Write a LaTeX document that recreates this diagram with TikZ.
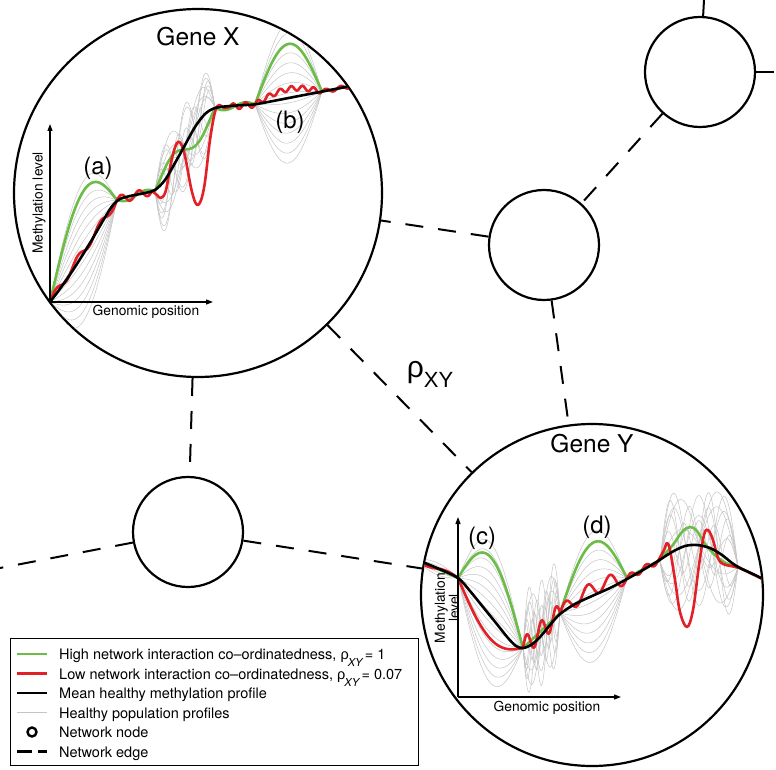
\documentclass[tikz,border=0pt]{standalone}
\usepackage{fontspec}
\setmainfont{TeX Gyre Heros}
\newfontfamily\grk{Liberation Sans}
\usepackage{tikz}
\usetikzlibrary{positioning,calc}
\usetikzlibrary{arrows.meta}

\definecolor{hicol}{RGB}{108,189,72}
\definecolor{locol}{RGB}{226,32,38}
\definecolor{popcol}{RGB}{196,196,196}

\tikzset{
  netnode/.style={circle,draw,line width=2.2pt,inner sep=0pt,minimum size=110pt},
  genenode/.style={netnode,minimum size=#1},
  netedge/.style={line width=2pt,dash pattern=on 18pt off 15pt},
  meanline/.style={line width=2.6pt,black,line cap=round,line join=round},
  hiline/.style={line width=2.6pt,hicol,line cap=round,line join=round},
  loline/.style={line width=2.6pt,locol,line cap=round,line join=round},
  popline/.style={line width=0.5pt,popcol},
  axisline/.style={line width=1.2pt,-{Triangle[length=7pt,width=5pt]}},
  genelabel/.style={font=\fontsize{24.5}{24.5}\selectfont,inner sep=0pt},
  caselabel/.style={font=\fontsize{24}{24}\selectfont,inner sep=0pt},
  axislabel/.style={font=\fontsize{13.8}{12}\selectfont,inner sep=0pt},
  legtext/.style={font=\fontsize{14.5}{14.5}\selectfont,inner sep=0pt,anchor=base west}
}

% one profile piece: style, x0, y0, x1, y1, offset in \x
\newcommand{\prof}[6]{\draw[#1] plot[domain=0:1,samples=60] ({#2+(#4-#2)*\x},{#3+(#5-#3)*\x+#6});}

\begin{document}
\begin{tikzpicture}[x=1pt,y=-1pt]
\useasboundingbox (0,0) rectangle (776,770);

% network
\node[genenode=368pt] (geneX) at (198,193) {};
\node[genenode=342pt] (geneY) at (592,595) {};
\node[netnode] (hubM) at (544,245) {};
\node[netnode] (hubT) at (700,72) {};
\node[netnode] (hubL) at (188,532) {};
\coordinate (endT) at (704,0);
\coordinate (endR) at (776,72);
\coordinate (endL) at (0,568);

\draw[netedge] (hubT) -- (endT);
\draw[netedge] (hubT) -- (endR);
\draw[netedge] (hubT) -- (hubM);
\draw[netedge] (hubM) -- (geneX);
\draw[netedge] (hubM) -- (geneY);
\draw[netedge] (geneX) -- (geneY);
\draw[netedge] (geneX) -- (hubL);
\draw[netedge] (hubL) -- (geneY);
\draw[netedge] (hubL) -- (endL);

\node[font=\grk\fontsize{30}{30}\selectfont,inner sep=0pt] (rhoXY) at (430,374)
  {ρ\raisebox{-10pt}{\fontsize{22}{22}\selectfont XY}};

\node[genelabel,below=19pt of geneX.north] (labX) {Gene X};
\node[genelabel,below=11pt of geneY.north] (labY) {Gene Y};

% Gene X profiles
\begin{scope}
\clip (198,193) circle (183pt);
\foreach \a in {-70,-60,...,70}
  {\prof{popline}{50}{302}{117}{200}{-(\a)*sin(180*\x)}}
\foreach \a/\n in {30/2,-30/2,40/3,-40/3,25/4,-25/4,45/2,-45/3,35/3,-20/2,20/5,-30/4,15/3,-15/5}
  {\prof{popline}{155}{191}{215}{108}{-83*((1-cos(180*\x))/2-\x)-(\a)*sin(\n*180*\x)}}
\foreach \a in {-65,-55,...,75}
  {\prof{popline}{255}{104.4}{322}{91.6}{-(\a)*sin(180*\x)}}

\prof{hiline}{50}{302}{117}{200}{-60*sin(180*\x)}
\prof{hiline}{117}{200}{155}{191}{3*sin(360*\x)}
\prof{hiline}{155}{191}{215}{108}{-83*((1-cos(180*\x))/2-\x)-20*sin(360*\x)}
\prof{hiline}{215}{108}{255}{104.4}{3*sin(360*\x)}
\prof{hiline}{255}{104.4}{322}{91.6}{-54*sin(180*\x)}
\prof{hiline}{322}{91.6}{352}{85.8}{0}

\prof{loline}{50}{302}{117}{200}{-4*sin(1080*\x)}
\prof{loline}{117}{200}{152}{191}{-4*sin(720*\x)}
\draw[loline] plot[smooth,tension=0.6] coordinates {(152,191) (157,195) (161,198) (166,190)
  (172,158) (178,142) (184,152) (192,192) (198,205) (204,188) (210,140) (215,112) (219,105)
  (224,108) (230,106.8)};
\prof{loline}{230}{106.8}{255}{104.4}{-3*sin(720*\x)}
\prof{loline}{255}{104.4}{322}{91.6}{-9*sin(180*\x)-2.5*sin(2160*\x)}
\prof{loline}{322}{91.6}{352}{85.8}{-2*sin(720*\x)}

\draw[meanline] plot[smooth,tension=0.5] coordinates {(50,302) (62,286) (75,267) (90,243)
  (104,219) (113,205) (120,199) (130,196) (145,193) (155,190) (165,180) (175,163) (185,145)
  (195,127) (205,114) (215,108) (230,106) (245,105) (257,104) (300,95.8) (352,85.8)};
\end{scope}

\coordinate (oX) at (50,302);
\coordinate (yX) at (50,124);
\coordinate (xX) at (213,302);
\draw[axisline] (oX) -- (yX);
\draw[axisline] (oX) -- (xX);
\node[axislabel,rotate=90] (mlX) at (39,203) {Methylation level};
\node[axislabel] (gpX) at (146,312) {Genomic position};
\node[caselabel] (caseA) at (98,168) {(a)};
\node[caselabel] (caseB) at (290,122) {(b)};

% Gene Y profiles
\begin{scope}
\clip (592,595) circle (170pt);
\foreach \a in {-70,-60,...,70}
  {\prof{popline}{458}{578}{523}{648}{-(\a)*sin(180*\x)}}
\foreach \a/\n in {45/2,-45/2,55/3,-50/3,35/4,-35/4,25/5,-25/5,40/3,-30/2,20/6,-20/6}
  {\prof{popline}{523}{648}{560}{613}{-(\a)*sin(\n*180*\x)}}
\foreach \a in {-66,-56,...,64}
  {\prof{popline}{560}{613}{627}{578}{-(\a)*sin(180*\x)}}
\foreach \a/\n in {50/2,-60/2,60/3,-50/3,40/4,-40/4,45/3,-45/2,25/5,-25/5,55/4,-30/3,20/2,-20/4}
  {\prof{popline}{660}{562}{738}{567}{-19*sin(180*\x)-(\a)*sin(\n*180*\x)}}
\foreach \a in {-6,-3,3,6}
  {\prof{popline}{415}{559}{458}{578}{(\a)*sin(180*\x)}}

\prof{hiline}{415}{559}{458}{578}{0}
\prof{hiline}{458}{578}{523}{648}{-56*sin(180*\x)}
\prof{hiline}{523}{648}{560}{613}{0}
\prof{hiline}{560}{613}{627}{578}{-53*sin(180*\x)}
\prof{hiline}{627}{578}{658}{561}{0}
\draw[hiline] plot[smooth,tension=0.6] coordinates {(658,561) (672,546) (682,532) (690,527)
  (697,531) (705,544) (717,557) (728,564) (740,568)};
\prof{hiline}{740}{568}{775}{585}{0}

\prof{loline}{415}{559}{458}{578}{2*sin(360*\x)}
\prof{loline}{458}{578}{523}{648}{26*sin(180*\x)}
\prof{loline}{523}{648}{560}{613}{-10*sin(900*\x)}
\prof{loline}{560}{613}{627}{578}{-7*sin(180*\x)-7*sin(1080*\x)}
\prof{loline}{627}{578}{658}{561}{-3*sin(720*\x)}
\draw[loline] plot[smooth,tension=0.6] coordinates {(658,561) (664,550) (667,543) (670,550)
  (675,580) (680,612) (687,627) (693,610) (699,565) (704,535) (708,530) (713,540) (718,558)
  (723,564) (731,566) (740,568)};
\prof{loline}{740}{568}{775}{585}{0}

\draw[meanline] plot[smooth,tension=0.5] coordinates {(415,559) (437,568) (458,578) (470,591)
  (483,607) (496,623) (508,638) (516,646) (523,648) (531,645) (540,637) (550,625) (560,614)
  (575,604) (592,596) (610,588) (627,579) (643,570) (658,561) (672,552) (685,546) (697,545)
  (710,548) (722,555) (732,563) (740,568) (755,575) (775,585)};
\end{scope}

\coordinate (oY) at (458,697);
\coordinate (yY) at (458,517);
\coordinate (xY) at (621,697);
\draw[axisline] (oY) -- (yY);
\draw[axisline] (oY) -- (xY);
\node[axislabel,rotate=90,align=center] (mlY) at (447,608) {Methylation\\level};
\node[axislabel] (gpY) at (547,708) {Genomic position};
\node[caselabel] (caseC) at (482,538) {(c)};
\node[caselabel] (caseD) at (597,527) {(d)};

% legend
\node[draw,line width=0.8pt,minimum width=408pt,minimum height=127pt,inner sep=0pt] (legbox) at (214,701.5) {};
\draw[hiline,line cap=butt] (17,654) -- (47,654);
\draw[loline,line cap=butt] (17,673.5) -- (47,673.5);
\draw[meanline,line cap=butt] (17,693) -- (47,693);
\draw[popline,line width=1pt] (17,712.5) -- (47,712.5);
\node[circle,draw,line width=2.4pt,minimum size=9pt,inner sep=0pt] (legnode) at (32,732) {};
\draw[line width=2.4pt,dash pattern=on 15pt off 6pt] (17,751.5) -- (47,751.5);
\node[legtext] (leg1) at (59,659.5) {High network interaction co–ordinatedness, {\grk ρ}\kern-1pt\raisebox{-7pt}{\fontsize{11}{11}\selectfont\itshape XY}\,= 1};
\node[legtext] (leg2) at (59,679) {Low network interaction co–ordinatedness, {\grk ρ}\kern-1pt\raisebox{-7pt}{\fontsize{11}{11}\selectfont\itshape XY}\,= 0.07};
\node[legtext] (leg3) at (59,698.5) {Mean healthy methylation profile};
\node[legtext] (leg4) at (59,718) {Healthy population profiles};
\node[legtext] (leg5) at (59,737.5) {Network node};
\node[legtext] (leg6) at (59,757) {Network edge};
\end{tikzpicture}
\end{document}
